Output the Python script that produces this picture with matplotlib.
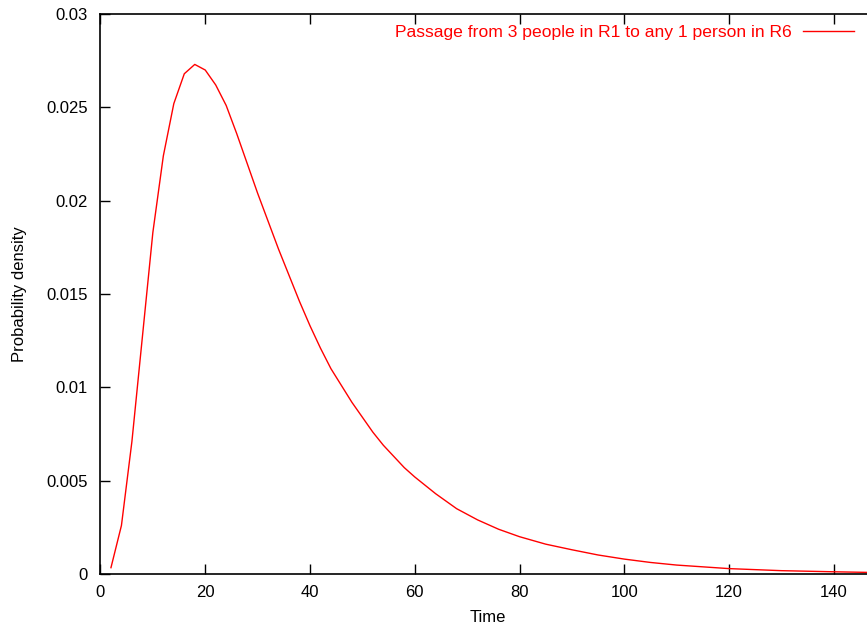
import matplotlib
matplotlib.use("Agg")
import matplotlib.pyplot as plt
from matplotlib.ticker import FormatStrFormatter

# values
time = [2, 4, 6, 8, 10, 12, 14, 16, 18, 20, 22, 24, 26, 28, 30, 32, 34, 36,
        38, 40, 42, 44, 46, 48, 50, 52, 54, 56, 58, 60, 64, 68, 72, 76, 80,
        85, 90, 95, 100, 105, 110, 120, 130, 140, 148]
density = [0.00034, 0.0026, 0.0071, 0.0127, 0.0183, 0.0224, 0.0252, 0.0268,
           0.0273, 0.0270, 0.0262, 0.0251, 0.0236, 0.0220, 0.0204, 0.0189,
           0.0174, 0.0160, 0.0146, 0.0133, 0.0121, 0.0110, 0.0101, 0.0092,
           0.0084, 0.0076, 0.0069, 0.0063, 0.0057, 0.0052, 0.0043, 0.0035,
           0.0029, 0.0024, 0.0020, 0.0016, 0.0013, 0.00102, 0.00080,
           0.00062, 0.00048, 0.00029, 0.00018, 0.00012, 0.00008]
label = "Passage from 3 people in R1 to any 1 person in R6"

plt.rcParams['font.family'] = ['Liberation Sans', 'DejaVu Sans']

fig = plt.figure(figsize=(8.67, 6.29), dpi=100)
ax = fig.add_axes([0.1159, 0.0874, 0.8841 + 0.01, 0.8903])

ax.plot(time, density, color='#ff0000', linewidth=1.0, label=label)

ax.set_xlim(0, 148)
ax.set_ylim(0, 0.03)
ax.set_xticks([0, 20, 40, 60, 80, 100, 120, 140])
ax.set_yticks([0, 0.005, 0.01, 0.015, 0.02, 0.025, 0.03])
ax.yaxis.set_major_formatter(FormatStrFormatter('%g'))
ax.tick_params(direction='in', length=7, width=1, labelsize=12,
               top=True, right=False, pad=8)
ax.tick_params(axis='y', pad=9)
for s in ax.spines.values():
    s.set_linewidth(1.2)

ax.set_xlabel("Time", fontsize=12, labelpad=7)
ax.set_ylabel("Probability density", fontsize=12, labelpad=14)

leg = ax.legend(loc='upper right', bbox_to_anchor=(864 / 867, 1 - 14 / 629),
                bbox_transform=fig.transFigure, frameon=False,
                markerfirst=False, handlelength=2.9, handletextpad=0.65,
                fontsize=12.6, borderaxespad=0.2)
for t in leg.get_texts():
    t.set_color('#ff0000')

fig.savefig("out.png", dpi=100)
